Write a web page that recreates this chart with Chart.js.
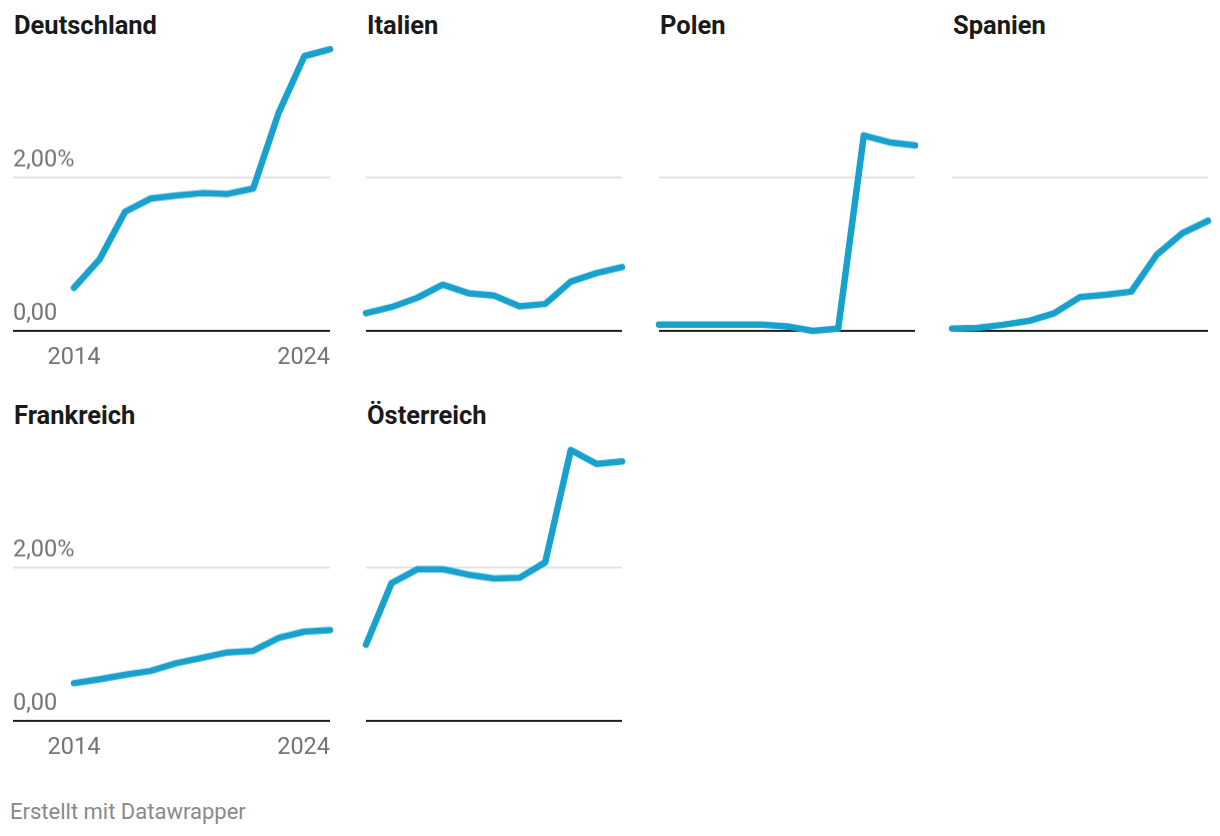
<!DOCTYPE html>
<html>
<head>
<meta charset="utf-8">
<script src="https://cdn.jsdelivr.net/npm/chart.js@4.4.1/dist/chart.umd.min.js"></script>
<style>
html, body { margin: 0; padding: 0; background: #ffffff; }
body { width: 1220px; height: 836px; position: relative; overflow: hidden; font-family: Roboto, sans-serif; }
.box { position: absolute; }
.title { position: absolute; font: 700 25.5px/25.5px Roboto, sans-serif; color: #1a1a1a; white-space: nowrap; }
.foot { position: absolute; left: 10px; top: 801px; font: 400 22px/22px Roboto, sans-serif; color: #8a8a8a; white-space: nowrap; }
</style>
</head>
<body>
<div class="foot">Erstellt mit Datawrapper</div>
<script>
// ---- data ----
const years = [2014, 2015, 2016, 2017, 2018, 2019, 2020, 2021, 2022, 2023, 2024];
const countries = ['Deutschland', 'Italien', 'Polen', 'Spanien', 'Frankreich', 'Österreich'];
const deutschland = [0.56, 0.93, 1.55, 1.72, 1.76, 1.79, 1.78, 1.85, 2.84, 3.57, 3.66];
const italien     = [0.23, 0.31, 0.43, 0.60, 0.49, 0.46, 0.32, 0.35, 0.64, 0.75, 0.83];
const polen       = [0.08, 0.08, 0.08, 0.08, 0.08, 0.06, 0.00, 0.03, 2.54, 2.45, 2.41];
const spanien     = [0.03, 0.04, 0.08, 0.13, 0.23, 0.44, 0.47, 0.51, 0.99, 1.27, 1.43];
const frankreich  = [0.49, 0.54, 0.60, 0.65, 0.75, 0.82, 0.89, 0.91, 1.08, 1.16, 1.18];
const oesterreich = [0.99, 1.79, 1.97, 1.97, 1.90, 1.85, 1.86, 2.06, 3.52, 3.34, 3.37];
const seriesValues = [deutschland, italien, polen, spanien, frankreich, oesterreich];
const yTickValues = [0, 2];
const yTickLabels = ['0,00', '2,00%'];
const xTickValues = [2014, 2024];
const xTickLabels = ['2014', '2024'];
const yMin = 0, yMax = 4;

// ---- layout ----
const PAD = 18, PADB = 4, XPAD = 15, TICK_FONT = 23.5;
const AXIS_H = TICK_FONT + 2 * XPAD;
const cols = [
  { L: 13,  first: 74,  R: 330 },
  { L: 366, first: 366, R: 622 },
  { L: 659, first: 659, R: 915 },
  { L: 952, first: 952, R: 1208 }
];
const rowTop = [23, 413];
const plotH = 307;
const titleTop = [12.5, 402.5];

const panels = [
  { c: 0, r: 0, axes: true },
  { c: 1, r: 0, axes: false },
  { c: 2, r: 0, axes: false },
  { c: 3, r: 0, axes: false },
  { c: 0, r: 1, axes: true },
  { c: 1, r: 1, axes: false }
];

panels.forEach((p, i) => {
  const col = cols[p.c];
  const T = rowTop[p.r];
  const title = document.createElement('div');
  title.className = 'title';
  title.style.left = (col.L + 1) + 'px';
  title.style.top = titleTop[p.r] + 'px';
  title.textContent = countries[i];
  document.body.appendChild(title);

  const box = document.createElement('div');
  box.className = 'box';
  box.style.left = (col.L - PAD) + 'px';
  box.style.top = (T - PAD) + 'px';
  box.style.width = (col.R - col.L + 2 * PAD) + 'px';
  box.style.height = (PAD + plotH + AXIS_H + PADB) + 'px';
  const cv = document.createElement('canvas');
  box.appendChild(cv);
  document.body.appendChild(box);

  const pxPerYear = (col.R - col.first) / (years[years.length - 1] - years[0]);
  const xmin = years[0] - (col.first - col.L) / pxPerYear;
  const xmax = years[years.length - 1];
  const vals = seriesValues[i];

  new Chart(cv, {
    type: 'line',
    data: {
      datasets: [{
        data: years.map((y, k) => ({ x: y, y: vals[k] })),
        borderColor: '#18a1cd',
        borderWidth: 6.5,
        pointRadius: 0,
        pointHoverRadius: 0,
        tension: 0,
        borderCapStyle: 'round',
        borderJoinStyle: 'round',
        fill: false,
        clip: false
      }]
    },
    options: {
      responsive: true,
      maintainAspectRatio: false,
      animation: false,
      events: [],
      layout: { padding: { left: PAD, right: PAD, top: PAD, bottom: PADB } },
      plugins: { legend: { display: false }, tooltip: { enabled: false } },
      scales: {
        x: {
          type: 'linear',
          min: xmin,
          max: xmax,
          grid: { display: false, drawTicks: false },
          border: { display: false },
          afterBuildTicks: s => {
            const vs = (xmin < years[0] - 0.01 ? [xmin] : []).concat(xTickValues);
            s.ticks = vs.map(v => ({ value: v }));
          },
          ticks: {
            autoSkip: false,
            maxRotation: 0,
            minRotation: 0,
            align: 'inner',
            padding: XPAD,
            color: p.axes ? '#737373' : 'rgba(0,0,0,0)',
            font: { family: 'Roboto', size: TICK_FONT, lineHeight: 1 },
            callback: v => {
              const k = xTickValues.indexOf(v);
              return k >= 0 ? xTickLabels[k] : '';
            }
          }
        },
        y: {
          type: 'linear',
          min: yMin,
          max: yMax,
          grid: {
            drawTicks: false,
            color: c => (c.tick && c.tick.value === 0) ? '#1d1d1d' : '#e3e3e3',
            lineWidth: 2
          },
          border: { display: false },
          afterBuildTicks: s => { s.ticks = yTickValues.map(v => ({ value: v })); },
          ticks: {
            display: p.axes,
            mirror: true,
            padding: 0,
            labelOffset: -16.5,
            color: '#737373',
            font: { family: 'Roboto', size: TICK_FONT, lineHeight: 1 },
            callback: v => {
              const k = yTickValues.indexOf(v);
              return k >= 0 ? yTickLabels[k] : '';
            }
          }
        }
      }
    }
  });
});
</script>
</body>
</html>
